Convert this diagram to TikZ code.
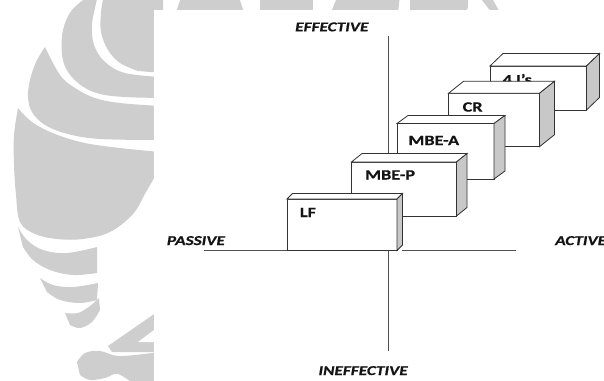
\documentclass[tikz,border=0pt]{standalone}
\usepackage{fontspec}
\setmainfont{Carlito}
\newfontfamily\labfont[FakeStretch=1.28]{Carlito}
\usetikzlibrary{calc}

\definecolor{wmgray}{RGB}{206,206,206}
\definecolor{edgegray}{RGB}{51,51,51}
\definecolor{axisgray}{RGB}{80,80,80}
\definecolor{sidegray}{RGB}{200,200,200}
\definecolor{ink}{RGB}{20,20,20}

\tikzset{
  axisline/.style={draw=axisgray, line width=0.9pt},
  axislabel/.style={font=\labfont\fontsize{13.5}{16}\selectfont\bfseries\itshape\addfontfeatures{FakeBold=0.6},
    text=ink, inner sep=0pt, anchor=base west},
  frontface/.style={draw=edgegray, fill=white, line width=0.8pt,
    inner sep=0pt, outer sep=0pt},
  topface/.style={draw=edgegray, fill=white, line width=0.8pt},
  sideface/.style={draw=edgegray, fill=sidegray, line width=0.8pt},
  blocklabel/.style={font=\labfont\fontsize{14.2}{16}\selectfont\bfseries\addfontfeatures{FakeBold=0.6},
    text=ink, inner sep=0pt, anchor=base west},
  watermark/.style={fill=wmgray},
}

% #1 name, #2/#3 front top-left corner, #4 width, #5 height,
% #6/#7 depth offset, #8 label, #9 label offset from the top-left corner
\newcommand\drawblock[9]{%
  \node[frontface, minimum width=#4pt, minimum height=#5pt, anchor=north west] (#1) at (#2,#3) {};
  \filldraw[topface] (#1.north west) -- ++(#6,#7) -- ($(#1.north east)+(#6,#7)$) -- (#1.north east) -- cycle;
  \filldraw[sideface] (#1.north east) -- ++(#6,#7) -- ($(#1.south east)+(#6,#7)$) -- (#1.south east) -- cycle;
  \node[blocklabel] (#1-label) at ($(#1.north west)+#9$) {#8};
}

\begin{document}
\begin{tikzpicture}[x=1pt, y=-1pt]
\useasboundingbox (0,0) rectangle (604,380);

% faded emblem in the background
\begin{scope}
  \fill[watermark] (163,-5) -- (163,73) -- plot[smooth, tension=0.6] coordinates {(138,71) (120,63) (108,50) (101,32) (101,12) (104,-5)} -- cycle;
  \fill[watermark] plot[smooth, tension=0.6] coordinates {(90,-5) (72,10) (63,30) (62,55) (68,72) (82,86) (100,94) (125,97) (160,98)}
     -- plot[smooth, tension=0.6] coordinates {(160,77) (125,73) (105,62) (94,45) (92,25) (95,8) (98,-5)} -- cycle;
  \fill[watermark] plot[smooth, tension=0.6] coordinates {(45,47) (36,62) (30,80) (28,97) (32,112) (45,125) (68,134) (100,139) (160,140)}
     -- plot[smooth, tension=0.6] coordinates {(160,106) (120,103) (95,98) (75,88) (60,75) (45,47)} -- cycle;
  \fill[watermark] plot[smooth, tension=0.6] coordinates {(18,108) (14,135) (14,165) (16,195) (20,222) (35,234) (57,239) (83,239) (110,232) (133,214) (146,192) (160,168)}
     -- plot[smooth, tension=0.6] coordinates {(160,152) (120,148) (85,143) (55,134) (32,122) (18,108)} -- cycle;
  \fill[watermark] plot[smooth, tension=0.6] coordinates {(18,227) (27,240) (43,250) (67,253) (97,247)}
     -- plot[smooth, tension=0.6] coordinates {(97,273) (73,275) (50,270) (33,260) (23,247)} -- cycle;
  \fill[watermark] plot[smooth, tension=0.6] coordinates {(40,278) (53,285) (73,287) (98,283)}
     -- plot[smooth, tension=0.6] coordinates {(97,300) (80,303) (60,300) (47,292)} -- cycle;
  \fill[watermark] plot[smooth, tension=0.6] coordinates {(65,313) (78,313) (90,306) (99,298)}
     -- plot[smooth, tension=0.6] coordinates {(100,310) (92,322) (80,328) (70,325)} -- cycle;
  \fill[watermark] (108,346) -- (160,310) -- (160,352) -- (112,352) -- cycle;
  \fill[white] (138,342) -- (154,330) -- (154,342) -- cycle;
  \fill[watermark] plot[smooth, tension=0.6] coordinates {(77,362) (85,353) (100,351) (120,356) (160,352)}
     -- (160,385) -- plot[smooth, tension=0.6] coordinates {(135,385) (118,374) (105,378) (90,380) (80,375)} -- cycle;
  \fill[watermark] (181.7,-5) -- (238.3,-5) -- (243.3,10.5) -- (176.7,10.5) -- cycle;
  \fill[watermark] (260,-5) rectangle (313,10.5);
  \fill[watermark] (338,-5) -- (400,-5) -- (398.3,10.5) -- (331.7,10.5) -- cycle;
  \fill[watermark] (410,-5) -- (468,-5) -- (468,6) .. controls (468,9) .. (465,10.5) -- (410,10.5) -- cycle;
  \fill[watermark] (478,-5) -- (490,-5) -- (499,10.5) -- (490,10.5) -- cycle;
\end{scope}

% sheet carrying the diagram
\fill[white] (153.5,10) rectangle (610,385);

% axes
\coordinate (v-north) at (388.5,36);
\coordinate (v-south) at (388.5,351);
\coordinate (h-west) at (204.3,250.7);
\coordinate (h-gapl) at (396.7,250.7);
\coordinate (h-gapr) at (402.3,250.7);
\coordinate (h-east) at (515.7,250.7);
\draw[axisline] (v-north) -- (v-south);
\draw[axisline] (h-west) -- (h-gapl);
\draw[axisline] (h-gapr) -- (h-east);

\node[axislabel] (eff) at (295,31.3) {EFFECTIVE};
\node[axislabel] (ineff) at (318.3,375) {INEFFECTIVE};
\node[axislabel] (pas) at (166.7,245) {PASSIVE};
\node[axislabel] (act) at (555,245) {ACTIVE};

% staircase of blocks, back to front
\drawblock{fouris}{490}{66}{96.5}{44}{13}{-12.5}{4 I’s}{(12.5,18.3)}
\drawblock{cr}{448.5}{93.3}{91}{53.4}{15}{-12}{CR}{(14,18.3)}
\drawblock{mbea}{397}{123.5}{97}{55.5}{11}{-8}{MBE-A}{(11.3,21.5)}
\drawblock{mbep}{351.5}{162}{105}{54}{10.5}{-8.5}{MBE-P}{(13.5,17.5)}
\drawblock{lf}{287}{199}{110}{51.5}{5.5}{-5.5}{LF}{(12.7,18)}

\end{tikzpicture}
\end{document}
